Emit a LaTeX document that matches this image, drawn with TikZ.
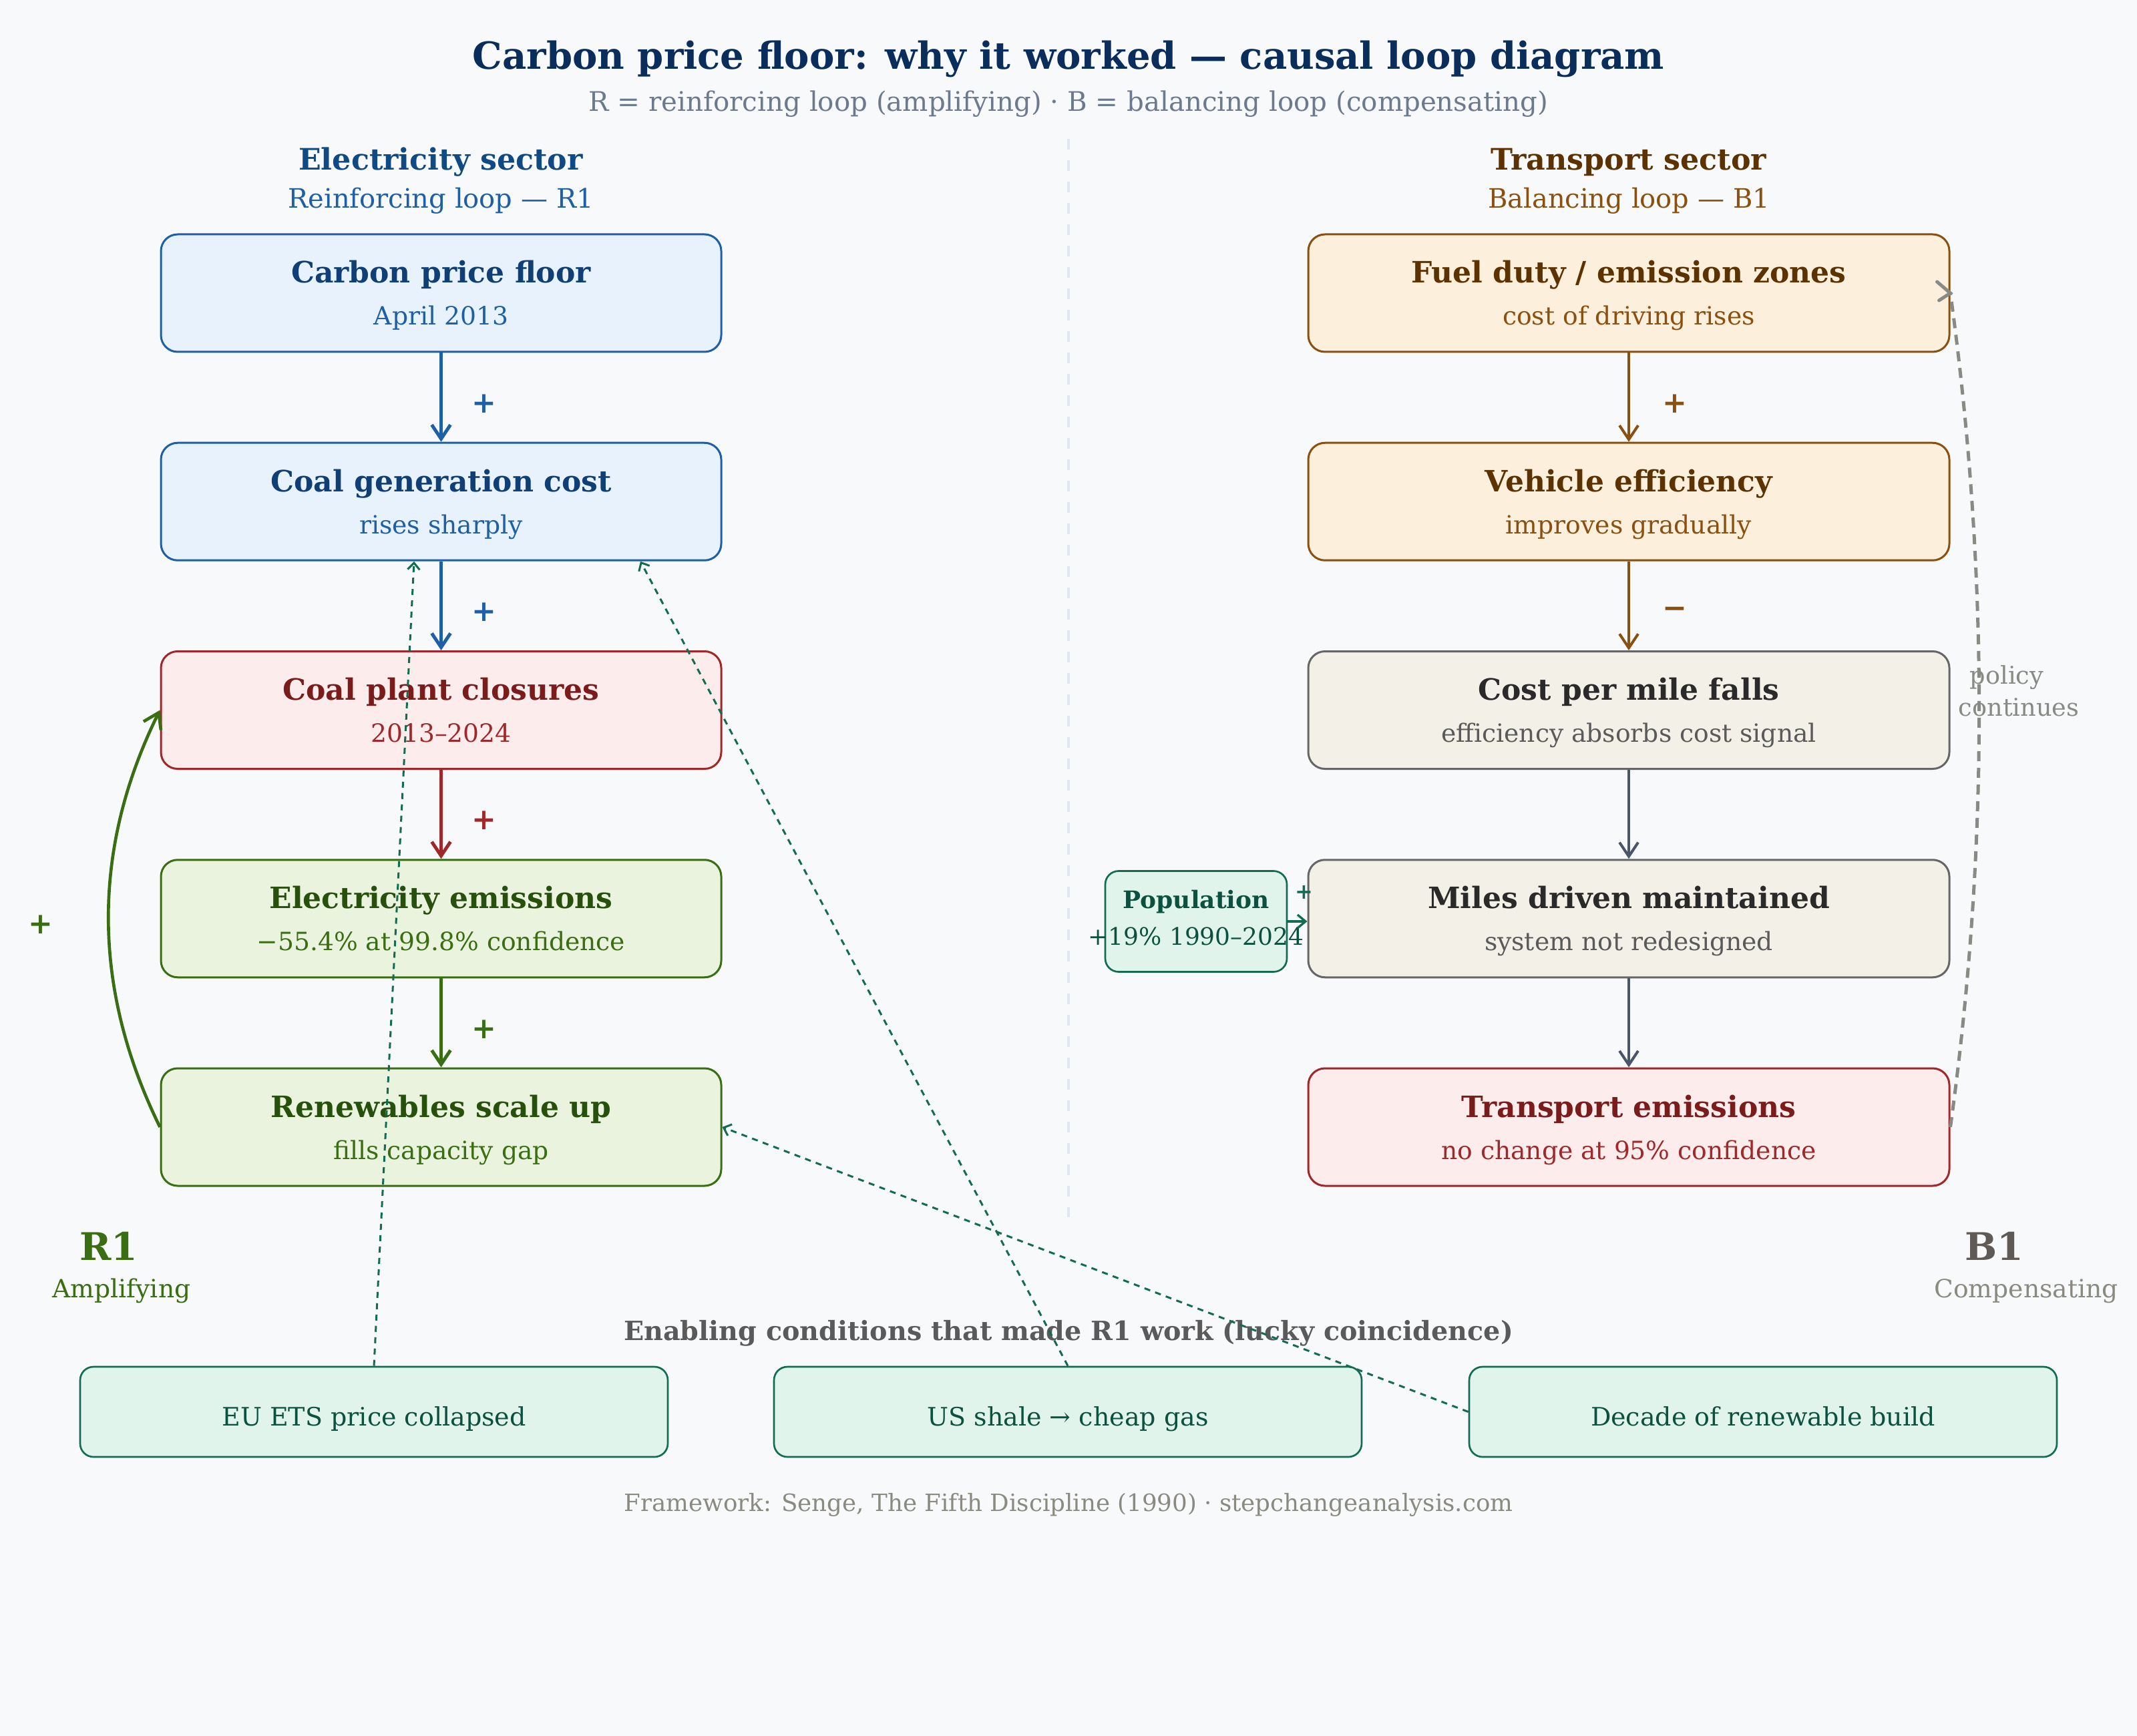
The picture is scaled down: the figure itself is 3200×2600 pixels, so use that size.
\documentclass[tikz,border=0pt]{standalone}
\usepackage{fontspec}
\setmainfont{DejaVu Serif}
\usetikzlibrary{arrows.meta,calc}
\definecolor{bg}{HTML}{F8F9FB}
\definecolor{navy}{HTML}{0B2D5B}
\definecolor{subgray}{HTML}{6B7A8F}
\definecolor{bluehd}{HTML}{0F4A85}
\definecolor{bluesub}{HTML}{1F5FA6}
\definecolor{bluefill}{HTML}{E8F2FC}
\definecolor{bluetitle}{HTML}{0F3F75}
\definecolor{redfill}{HTML}{FCECEC}
\definecolor{redstroke}{HTML}{A0282A}
\definecolor{redtitle}{HTML}{7A1C1C}
\definecolor{greenfill}{HTML}{EAF3DD}
\definecolor{greenstroke}{HTML}{3A6E12}
\definecolor{greentitle}{HTML}{26500C}
\definecolor{orfill}{HTML}{FCEFDC}
\definecolor{orstroke}{HTML}{8A5010}
\definecolor{ortitle}{HTML}{5C3300}
\definecolor{gfill}{HTML}{F3F0E8}
\definecolor{gstroke}{HTML}{666666}
\definecolor{gtitle}{HTML}{2A2A2A}
\definecolor{gsub}{HTML}{5A5A5A}
\definecolor{tfill}{HTML}{E1F4EC}
\definecolor{tstroke}{HTML}{136B52}
\definecolor{ttext}{HTML}{0C5040}
\definecolor{slate}{HTML}{4A5568}
\definecolor{dashgray}{HTML}{8A8A85}
\definecolor{divider}{HTML}{E1E7EF}
\definecolor{bonegray}{HTML}{5F5A55}
\definecolor{foot}{HTML}{8A8A80}
\newcommand\fpx[1]{\fontsize{#1pt}{#1pt}\selectfont}
\tikzset{
 cbox/.style={draw, rounded corners=7.5pt, line width=0.9pt, minimum height=52.8pt, inner sep=0pt},
 lbox/.style={cbox, minimum width=251.7pt},
 rbox/.style={cbox, minimum width=288pt},
 ttl/.style={anchor=base, font=\fpx{13.2}\bfseries, inner sep=0pt},
 sbt/.style={anchor=base, font=\fpx{11.3}, inner sep=0pt},
 link/.style={line width=1.5pt, -{Straight Barb[length=6.3pt,width=8.4pt,line width=1.5pt]}},
 thinlink/.style={line width=1.2pt, -{Straight Barb[length=6.3pt,width=8.4pt,line width=1.2pt]}},
 sign/.style={font=\fpx{13.2}\bfseries, inner sep=0pt},
 cond/.style={draw=tstroke, fill=tfill, rounded corners=6pt, line width=0.8pt, minimum width=264pt, minimum height=40.5pt, inner sep=0pt},
 enab/.style={draw=tstroke, line width=0.9pt, dash pattern=on 2.7pt off 2.4pt, -{Straight Barb[length=3pt,width=5.4pt,line width=0.9pt]}},
 lbl/.style={anchor=base, inner sep=0pt},
}
\begin{document}
\begin{tikzpicture}[x=0.3pt, y=-0.3pt]
\path[fill=bg] (0,0) rectangle (3200,2600);

% titles
\node[lbl, font=\fpx{16.8}\bfseries, text=navy] (title) at (1600,104) {Carbon price floor: why it worked — causal loop diagram};
\node[lbl, font=\fpx{12.1}, text=subgray] (subtitle) at (1600,167) {R = reinforcing loop (amplifying) · B = balancing loop (compensating)};

\draw[divider, line width=1.2pt, dash pattern=on 4.8pt off 4.8pt] (1600,208) -- (1600,1823);

\node[lbl, font=\fpx{13.3}\bfseries, text=bluehd] (elhd) at (660,255) {Electricity sector};
\node[lbl, font=\fpx{12}, text=bluesub] (elsub) at (660,312) {Reinforcing loop — R1};
\node[lbl, font=\fpx{13.3}\bfseries, text=ortitle] (trhd) at (2439,255) {Transport sector};
\node[lbl, font=\fpx{12}, text=orstroke] (trsub) at (2439,312) {Balancing loop — B1};

% left column
\node[lbox, draw=bluesub, fill=bluefill] (cpf) at (660.5,439) {};
\node[ttl, text=bluetitle] (cpf-t) at ([yshift=4.5pt]cpf.center) {Carbon price floor};
\node[sbt, text=bluesub] (cpf-s) at ([yshift=-14.4pt]cpf.center) {April 2013};

\node[lbox, draw=bluesub, fill=bluefill] (cgc) at (660.5,751.25) {};
\node[ttl, text=bluetitle] (cgc-t) at ([yshift=4.5pt]cgc.center) {Coal generation cost};
\node[sbt, text=bluesub] (cgc-s) at ([yshift=-14.4pt]cgc.center) {rises sharply};

\node[lbox, draw=redstroke, fill=redfill] (cpc) at (660.5,1063.5) {};
\node[ttl, text=redtitle] (cpc-t) at ([yshift=4.5pt]cpc.center) {Coal plant closures};
\node[sbt, text=redstroke] (cpc-s) at ([yshift=-14.4pt]cpc.center) {2013–2024};

\node[lbox, draw=greenstroke, fill=greenfill] (ele) at (660.5,1375.75) {};
\node[ttl, text=greentitle] (ele-t) at ([yshift=4.5pt]ele.center) {Electricity emissions};
\node[sbt, text=greenstroke] (ele-s) at ([yshift=-14.4pt]ele.center) {−55.4\% at 99.8\% confidence};

\node[lbox, draw=greenstroke, fill=greenfill] (ren) at (660.5,1688) {};
\node[ttl, text=greentitle] (ren-t) at ([yshift=4.5pt]ren.center) {Renewables scale up};
\node[sbt, text=greenstroke] (ren-s) at ([yshift=-14.4pt]ren.center) {fills capacity gap};

% right column
\node[rbox, draw=orstroke, fill=orfill] (fd) at (2439,439) {};
\node[ttl, text=ortitle] (fd-t) at ([yshift=4.5pt]fd.center) {Fuel duty / emission zones};
\node[sbt, text=orstroke] (fd-s) at ([yshift=-14.4pt]fd.center) {cost of driving rises};

\node[rbox, draw=orstroke, fill=orfill] (ve) at (2439,751.25) {};
\node[ttl, text=ortitle] (ve-t) at ([yshift=4.5pt]ve.center) {Vehicle efficiency};
\node[sbt, text=orstroke] (ve-s) at ([yshift=-14.4pt]ve.center) {improves gradually};

\node[rbox, draw=gstroke, fill=gfill] (cpm) at (2439,1063.5) {};
\node[ttl, text=gtitle] (cpm-t) at ([yshift=4.5pt]cpm.center) {Cost per mile falls};
\node[sbt, text=gsub] (cpm-s) at ([yshift=-14.4pt]cpm.center) {efficiency absorbs cost signal};

\node[rbox, draw=gstroke, fill=gfill] (mdm) at (2439,1375.75) {};
\node[ttl, text=gtitle] (mdm-t) at ([yshift=4.5pt]mdm.center) {Miles driven maintained};
\node[sbt, text=gsub] (mdm-s) at ([yshift=-14.4pt]mdm.center) {system not redesigned};

\node[rbox, draw=redstroke, fill=redfill] (te) at (2439,1688) {};
\node[ttl, text=redtitle] (te-t) at ([yshift=4.5pt]te.center) {Transport emissions};
\node[sbt, text=redstroke] (te-s) at ([yshift=-14.4pt]te.center) {no change at 95\% confidence};

% population
\node[draw=tstroke, fill=tfill, rounded corners=6pt, line width=0.8pt, minimum width=81.6pt, minimum height=45.3pt, inner sep=0pt] (pop) at (1791,1380) {};
\node[lbl, font=\fpx{10.8}\bfseries, text=ttext] (pop-t) at ([yshift=6pt]pop.center) {Population};
\node[lbl, font=\fpx{10.8}, text=ttext] (pop-s) at ([yshift=-10.5pt]pop.center) {+19\% 1990–2024};
\draw[tstroke, line width=1pt, -{Straight Barb[length=3.6pt,width=6pt,line width=1pt]}] (pop.east) -- (pop.east -| mdm.west);
\node[sign, font=\fpx{9.6}\bfseries, text=tstroke] (pop-p) at (1953,1336) {+};

% column links
\draw[link, bluesub] (cpf) -- (cgc);
\draw[link, bluesub] (cgc) -- (cpc);
\draw[link, redstroke] (cpc) -- (ele);
\draw[link, greenstroke] (ele) -- (ren);
\node[sign, text=bluesub] (s1) at (725,605) {+};
\node[sign, text=bluesub] (s2) at (725,917) {+};
\node[sign, text=redstroke] (s3) at (725,1229) {+};
\node[sign, text=greenstroke] (s4) at (725,1542) {+};

\draw[thinlink, orstroke] (fd) -- (ve);
\draw[thinlink, orstroke] (ve) -- (cpm);
\draw[thinlink, slate] (cpm) -- (mdm);
\draw[thinlink, slate] (mdm) -- (te);
\node[sign, text=orstroke] (s5) at (2508,605) {+};
\node[sign, text=orstroke] (s6) at (2508,917) {−};

% reinforcing arc
\draw[greenstroke, line width=1.4pt, -{Straight Barb[length=6.6pt,width=8.7pt,line width=1.4pt]}] (ren.west) .. controls (137,1479) and (137,1272) .. (cpc.west);
\node[sign, text=greenstroke] (s7) at (61,1385) {+};

% balancing arc
\draw[dashgray, line width=1.5pt, dash pattern=on 4.5pt off 3pt] (te.east) .. controls (2978,1272) and (2978,856) .. (fd.east);
\draw[dashgray, line width=1.5pt, line cap=round] ([shift={(-20,-17)}]fd.east) -- (fd.east) -- ([shift={(-17,11)}]fd.east);
\node[lbl, font=\fpx{11}, text=dashgray] (pol1) at (3005,1024) {policy};
\node[lbl, font=\fpx{11}, text=dashgray] (pol2) at (3023,1072) {continues};

% loop labels
\node[lbl, font=\fpx{17.1}\bfseries, text=greenstroke] (r1) at (163,1887) {R1};
\node[lbl, font=\fpx{11.3}, text=greenstroke] (r1s) at (182,1943) {Amplifying};
\node[lbl, font=\fpx{17.1}\bfseries, text=bonegray] (b1) at (2986,1887) {B1};
\node[lbl, font=\fpx{11.3}, text=foot] (b1s) at (3034,1943) {Compensating};

% enabling conditions
\node[lbl, font=\fpx{11.9}\bfseries, text=gsub] (enh) at (1600,2007) {Enabling conditions that made R1 work (lucky coincidence)};
\node[cond] (eu) at (560,2114.5) {};
\node[lbl, font=\fpx{11.4}, text=ttext] (eu-t) at ([yshift=-6.3pt]eu.center) {EU ETS price collapsed};
\node[cond] (us) at (1599,2114.5) {};
\node[lbl, font=\fpx{11.4}, text=ttext] (us-t) at ([yshift=-6.3pt]us.center) {US shale → cheap gas};
\node[cond] (dec) at (2640,2114.5) {};
\node[lbl, font=\fpx{11.4}, text=ttext] (dec-t) at ([yshift=-6.3pt]dec.center) {Decade of renewable build};

\draw[enab] (eu.north) -- ([xshift=-12.15pt]cgc.south);
\draw[enab] (us.north) -- ([xshift=89.55pt]cgc.south);
\draw[enab] (dec.west) -- (ren.east);

\node[lbl, font=\fpx{10.7}, text=foot] (footer) at (1600,2263) {Framework: Senge, The Fifth Discipline (1990) · stepchangeanalysis.com};
\end{tikzpicture}
\end{document}
